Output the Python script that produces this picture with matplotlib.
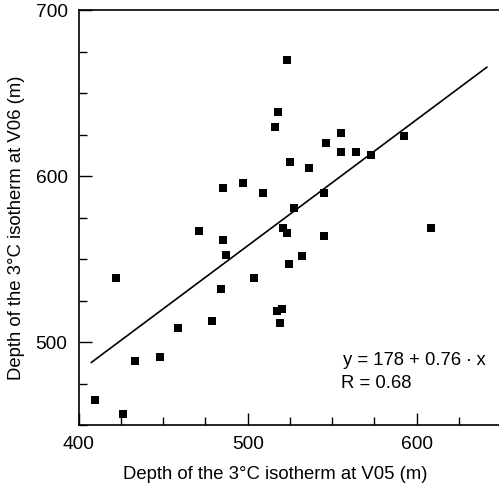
import matplotlib
matplotlib.use("Agg")
import matplotlib.pyplot as plt
from matplotlib.ticker import MultipleLocator

plt.rcParams['font.family'] = ['Liberation Sans', 'DejaVu Sans']

depth_v05 = [409.9, 426.0, 422.0, 433.1, 448.2, 458.9, 471.2, 479.0, 485.2, 485.2,
             487.0, 484.2, 497.0, 504.0, 509.1, 516.2, 518.1, 523.1, 521.1, 523.1,
             524.3, 525.2, 527.3, 532.3, 536.3, 517.3, 520.3, 519.1, 545.3, 545.3,
             546.3, 555.3, 555.3, 564.2, 573.1, 592.5, 608.3]
depth_v06 = [464.8, 456.6, 538.8, 488.5, 490.7, 508.6, 566.7, 512.8, 592.8, 561.7,
             552.7, 531.7, 595.7, 538.7, 589.8, 629.6, 638.5, 669.8, 568.7, 565.9,
             546.7, 608.7, 580.6, 551.6, 604.7, 518.6, 519.7, 511.6, 589.8, 563.7,
             619.6, 625.8, 614.7, 614.7, 612.7, 624.0, 568.7]

intercept = 178
slope = 0.76
r_value = 0.68
fit_x_range = [407.5, 641.5]

fig = plt.figure(figsize=(4.99, 4.84), dpi=100)
ax = fig.add_axes([0.1577, 0.1219, 0.8423, 0.8574])

ax.plot(depth_v05, depth_v06, linestyle='none', marker='s', markersize=5.6,
        color='black', markeredgewidth=0)
fx = fit_x_range
fy = [intercept + slope * v for v in fx]
ax.plot(fx, fy, color='black', linewidth=1.2)

ax.set_xlim(400, 648.7)
ax.set_ylim(450, 700)
ax.xaxis.set_major_locator(MultipleLocator(100))
ax.xaxis.set_minor_locator(MultipleLocator(25))
ax.yaxis.set_major_locator(MultipleLocator(100))
ax.yaxis.set_minor_locator(MultipleLocator(25))
ax.tick_params(which='both', direction='in', width=1, labelsize=13.8)
ax.tick_params(which='major', length=9, pad=8)
ax.tick_params(which='minor', length=5.5)
ax.spines['right'].set_visible(False)
for s in ['left', 'bottom', 'top']:
    ax.spines[s].set_linewidth(1.2)

ax.set_xlabel('Depth of the 3°C isotherm at V05 (m)', fontsize=13.3)
ax.set_ylabel('Depth of the 3°C isotherm at V06 (m)', fontsize=13.3)
ax.xaxis.set_label_coords(0.467, -0.0988)
ax.yaxis.set_label_coords(-0.128, 0.475)

ax.text(556.4, 488.9, f'y = {intercept} + {slope} \u2219 x', fontsize=13.3,
        ha='left', va='center', family=['Liberation Sans', 'DejaVu Sans'])
ax.text(555.5, 475.0, f'R = {r_value}', fontsize=13.3, ha='left', va='center')

fig.savefig('out.png', dpi=100)
